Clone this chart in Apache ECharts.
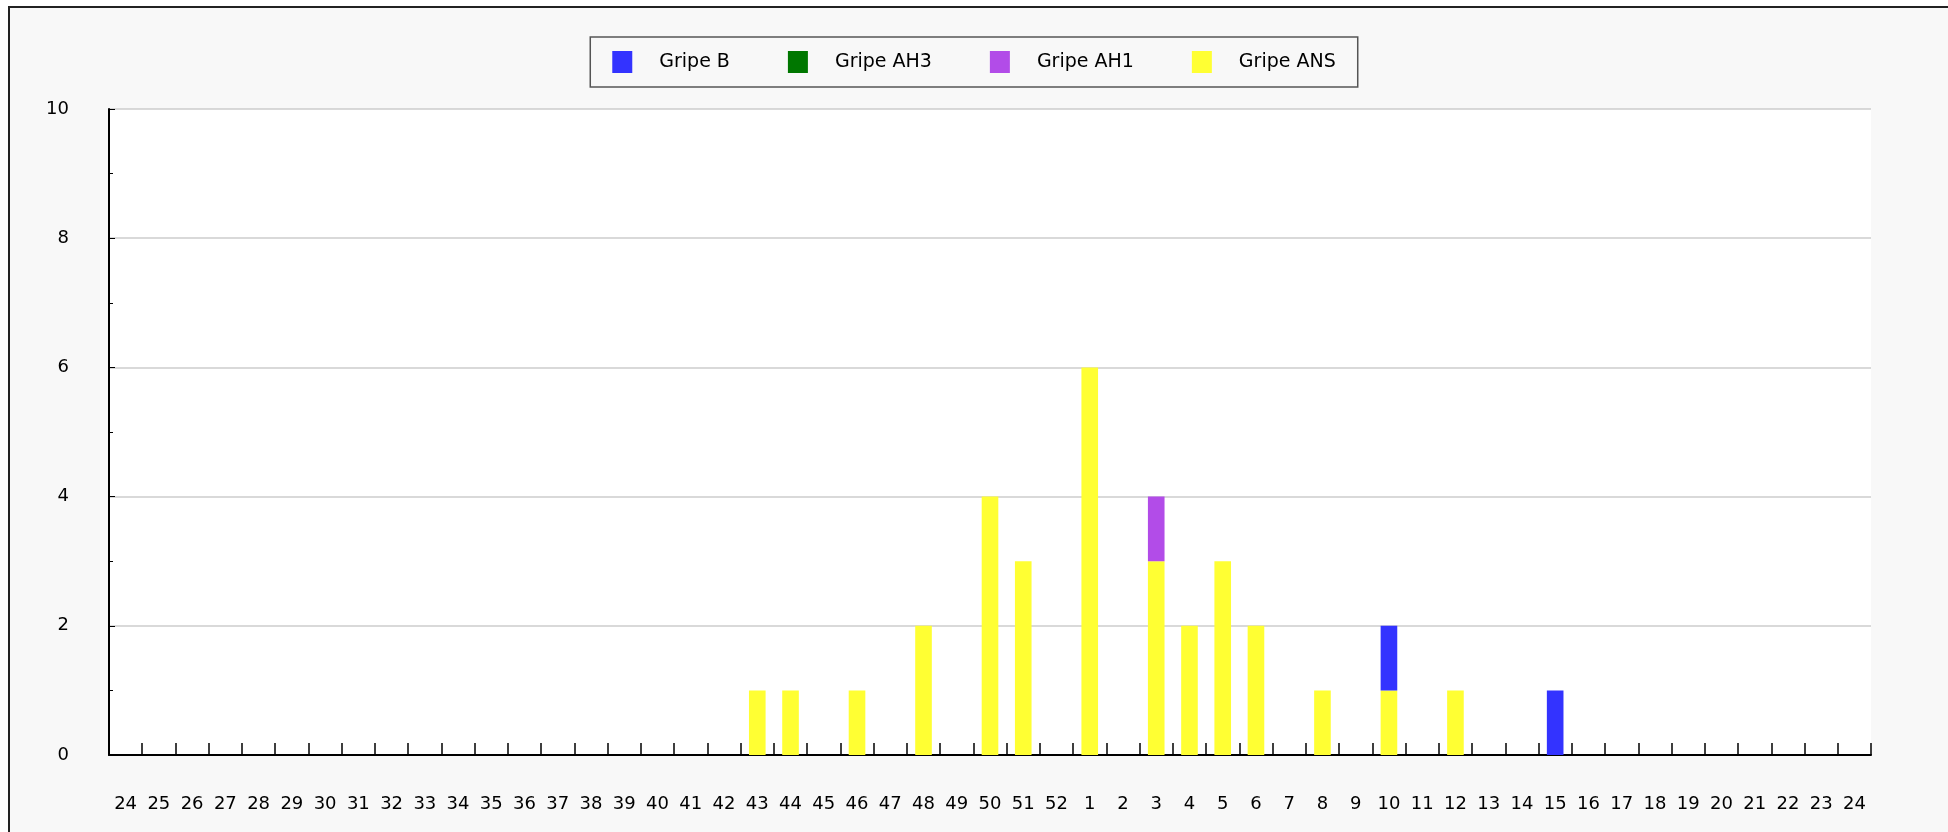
<!DOCTYPE html>
<html><head><meta charset="utf-8">
<script src="https://cdn.jsdelivr.net/npm/echarts@6/dist/echarts.min.js"></script>
<style>html,body{margin:0;padding:0;background:#fff}
#frame{position:absolute;left:8px;top:6px;width:1950px;height:830px;border-left:2px solid #222;border-top:2px solid #222;background:#f8f8f8}
#c{position:absolute;left:0;top:0;width:1948px;height:832px}</style></head>
<body><div id="frame"></div><div id="c"></div>
<script>
const weeks = ['24','25','26','27','28','29','30','31','32','33','34','35','36','37','38','39','40','41','42','43','44','45','46','47','48','49','50','51','52','1','2','3','4','5','6','7','8','9','10','11','12','13','14','15','16','17','18','19','20','21','22','23','24'];
const gripeANS = {'43':1,'44':1,'46':1,'48':2,'50':4,'51':3,'1':6,'3':3,'4':2,'5':3,'6':2,'8':1,'10':1,'12':1};
const gripeAH1 = {'3':1};
const gripeAH3 = {};
const gripeB = {'10':1,'15':1};
function series(m){return weeks.map((w,i)=> (i<weeks.length-1 && m[w]) ? m[w] : 0);}
const chart = echarts.init(document.getElementById('c'));
const font = 'DejaVu Sans';
chart.setOption({
  animation:false,
  textStyle:{fontFamily:font},
  legend:{top:37,left:'center',itemWidth:20,itemHeight:22,itemGap:58,
    padding:[14,22],borderColor:'#555',borderWidth:1.5,backgroundColor:'#f8f8f8',
    textStyle:{fontSize:19,color:'#000',fontFamily:font,padding:[0,0,0,22]},icon:'rect',
    data:['Gripe B','Gripe AH3','Gripe AH1','Gripe ANS']},
  grid:{left:109,right:77,top:109,bottom:77,backgroundColor:'#fff',show:true,borderWidth:0},
  xAxis:{type:'category',data:weeks,
    axisLine:{lineStyle:{color:'#000',width:2}},
    axisTick:{show:true,length:-12,lineStyle:{color:'#000',width:1.5}},
    axisLabel:{color:'#000',fontSize:18,margin:40,interval:0}},
  yAxis:{type:'value',min:0,max:10,interval:2,
    axisLine:{show:true,lineStyle:{color:'#000',width:2}},
    axisTick:{show:true,length:6,inside:true,lineStyle:{color:'#000'}},
    minorTick:{show:true,splitNumber:2,length:4,lineStyle:{color:'#000'}},
    splitLine:{lineStyle:{color:'#ccc',width:1.5}},
    axisLabel:{color:'#000',fontSize:18,margin:40}},
  series:[
    {name:'Gripe ANS',type:'bar',stack:'a',barWidth:'50%',data:series(gripeANS),itemStyle:{color:'#ffff33'}},
    {name:'Gripe AH1',type:'bar',stack:'a',data:series(gripeAH1),itemStyle:{color:'#b24ce8'}},
    {name:'Gripe AH3',type:'bar',stack:'a',data:series(gripeAH3),itemStyle:{color:'#007700'}},
    {name:'Gripe B',type:'bar',stack:'a',data:series(gripeB),itemStyle:{color:'#3333ff'}}
  ]
});
</script></body></html>
